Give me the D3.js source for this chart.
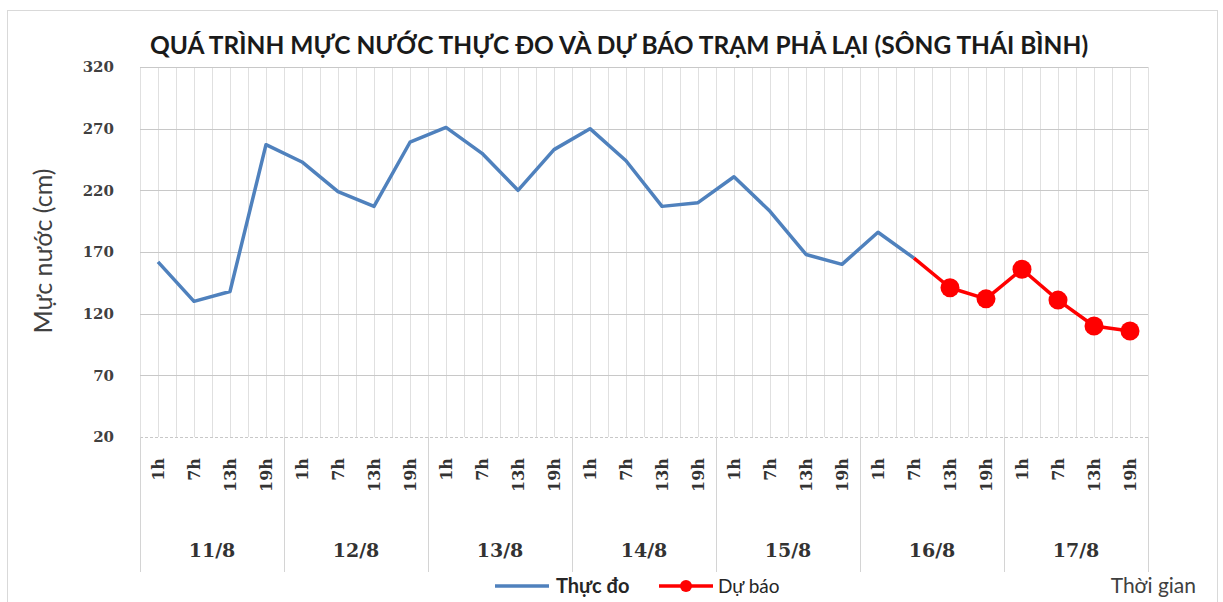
<!doctype html>
<html lang="vi">
<head>
<meta charset="utf-8">
<title>Quá trình mực nước Phả Lại</title>
<script src="https://cdn.jsdelivr.net/npm/d3@7"></script>
<style>
  body { margin: 0; background: #fff; }
  svg { display: block; }
</style>
</head>
<body>
<svg id="chart"></svg>
<script>

    // --- data ---
    var days = ["11/8", "12/8", "13/8", "14/8", "15/8", "16/8", "17/8"];
    var hours = ["1h", "7h", "13h", "19h"];
    var yTicks = [20, 70, 120, 170, 220, 270, 320];

    // measured levels (cm), from 11/8 1h to 16/8 7h
    var thucDo = [162, 130, 138, 257, 243, 219, 207, 259, 271, 250, 220, 253,
                  270, 244, 207, 210, 231, 203, 168, 160, 186, 165];
    // forecast (cm), from 16/8 7h to 17/8 19h
    var duBao = [165, 141, 132, 156, 131, 110, 106];
    var duBaoStart = 21; // index of 16/8 7h

    var width = 1223, height = 602;
    var margin = { top: 67, right: 75, bottom: 165, left: 140 };
    var sans = "Lato, 'Open Sans', sans-serif";
    var serif = "'DejaVu Serif', serif";

    var svg = d3.select("#chart")
        .attr("width", width)
        .attr("height", height);

    // category list: one per day/hour pair
    var cats = [];
    days.forEach(function (d) {
        hours.forEach(function (h) { cats.push(d + " " + h); });
    });

    var x = d3.scaleBand()
        .domain(cats)
        .range([margin.left, width - margin.right])
        .padding(0);
    var bw = x.bandwidth();
    var cx = function (i) { return x(cats[i]) + bw / 2; };

    var y = d3.scaleLinear()
        .domain([20, 320])
        .range([height - margin.bottom, margin.top]);

    // outer chart frame
    svg.append("rect")
        .attr("x", 7.5).attr("y", 10.5)
        .attr("width", 1210).attr("height", 600)
        .attr("fill", "none")
        .attr("stroke", "#d9d9d9");

    // vertical grid: band edges and centres
    var vlines = [];
    cats.forEach(function (c) { vlines.push(x(c)); vlines.push(x(c) + bw / 2); });
    vlines.push(width - margin.right);

    svg.append("g").selectAll("line")
        .data(vlines)
        .join("line")
        .attr("x1", d => Math.round(d) + 0.5)
        .attr("x2", d => Math.round(d) + 0.5)
        .attr("y1", y(320))
        .attr("y2", y(20))
        .attr("stroke", "#e0e0e0")
        .attr("stroke-width", 1);

    // horizontal grid
    svg.append("g").selectAll("line")
        .data(yTicks)
        .join("line")
        .attr("x1", margin.left)
        .attr("x2", width - margin.right)
        .attr("y1", d => Math.round(y(d)) + 0.5)
        .attr("y2", d => Math.round(y(d)) + 0.5)
        .attr("stroke", "#c8c8c8")
        .attr("stroke-dasharray", d => d == 20 ? "3,2" : null);

    // day separators below the plot
    var seps = days.map(d => x(d + " 1h"));
    seps.push(width - margin.right);
    svg.append("g").selectAll("line")
        .data(seps)
        .join("line")
        .attr("x1", d => Math.round(d) + 0.5)
        .attr("x2", d => Math.round(d) + 0.5)
        .attr("y1", y(20))
        .attr("y2", 572)
        .attr("stroke", "#d4d4d4");

    // y tick labels
    svg.append("g").selectAll("text")
        .data(yTicks)
        .join("text")
        .attr("x", 114)
        .attr("y", d => y(d))
        .attr("dy", "0.36em")
        .attr("text-anchor", "end")
        .attr("font-family", serif)
        .attr("font-weight", 700)
        .attr("font-size", 15)
        .attr("fill", "#404040")
        .text(d => d);

    // hour labels, rotated
    svg.append("g").selectAll("text")
        .data(cats)
        .join("text")
        .attr("transform", d => "translate(" + (x(d) + bw / 2 + 6) + "," + 458 + ") rotate(-90)")
        .attr("text-anchor", "end")
        .attr("font-family", serif)
        .attr("font-weight", 700)
        .attr("font-size", 16)
        .attr("fill", "#333")
        .text(d => d.split(" ")[1]);

    // day labels
    svg.append("g").selectAll("text")
        .data(days)
        .join("text")
        .attr("x", d => x(d + " 1h") + bw * 2)
        .attr("y", 557)
        .attr("text-anchor", "middle")
        .attr("font-family", serif)
        .attr("font-weight", 700)
        .attr("font-size", 19)
        .attr("fill", "#333")
        .text(d => d);

    // y axis title
    svg.append("text")
        .attr("transform", "translate(52," + 251 + ") rotate(-90)")
        .attr("text-anchor", "middle")
        .attr("font-family", sans)
        .attr("font-size", 25)
        .attr("fill", "#404040")
        .text("Mực nước (cm)");

    // chart title
    svg.append("text")
        .attr("x", 619)
        .attr("y", 54)
        .attr("text-anchor", "middle")
        .attr("font-family", sans)
        .attr("font-weight", 700)
        .attr("font-size", 24.5)
        .attr("fill", "#1a1a1a")
        .text("QUÁ TRÌNH MỰC NƯỚC THỰC ĐO VÀ DỰ BÁO TRẠM PHẢ LẠI (SÔNG THÁI BÌNH)");

    var line = d3.line()
        .x(d => d[0])
        .y(d => y(d[1]));

    // measured series
    svg.append("path")
        .datum(thucDo.map((v, i) => [cx(i), v]))
        .attr("d", line)
        .attr("fill", "none")
        .attr("stroke", "#4f81bd")
        .attr("stroke-width", 3.5)
        .attr("stroke-linejoin", "round");

    // forecast series
    var fc = duBao.map((v, i) => [cx(i + duBaoStart), v]);
    svg.append("path")
        .datum(fc)
        .attr("d", line)
        .attr("fill", "none")
        .attr("stroke", "#ff0000")
        .attr("stroke-width", 3.5)
        .attr("stroke-linejoin", "round");

    svg.append("g").selectAll("circle")
        .data(fc.slice(1))
        .join("circle")
        .attr("cx", d => d[0])
        .attr("cy", d => y(d[1]))
        .attr("r", 9.5)
        .attr("fill", "#ff0000");

    // legend
    var lg = svg.append("g").attr("font-family", sans);
    lg.append("line")
        .attr("x1", 495).attr("x2", 549)
        .attr("y1", 586).attr("y2", 586)
        .attr("stroke", "#4f81bd").attr("stroke-width", 3.5);
    lg.append("text")
        .attr("x", 556).attr("y", 593)
        .attr("font-size", 20)
        .attr("font-weight", 700)
        .attr("fill", "#262626")
        .text("Thực đo");
    lg.append("line")
        .attr("x1", 659).attr("x2", 713)
        .attr("y1", 586).attr("y2", 586)
        .attr("stroke", "#ff0000").attr("stroke-width", 3.5);
    lg.append("circle")
        .attr("cx", 686).attr("cy", 586).attr("r", 6)
        .attr("fill", "#ff0000");
    lg.append("text")
        .attr("x", 718).attr("y", 593)
        .attr("font-size", 19)
        .attr("fill", "#262626")
        .text("Dự báo");

    svg.append("text")
        .attr("x", 1196).attr("y", 593)
        .attr("text-anchor", "end")
        .attr("font-family", sans)
        .attr("font-size", 21)
        .attr("fill", "#404040")
        .text("Thời gian");

</script>
</body>
</html>
